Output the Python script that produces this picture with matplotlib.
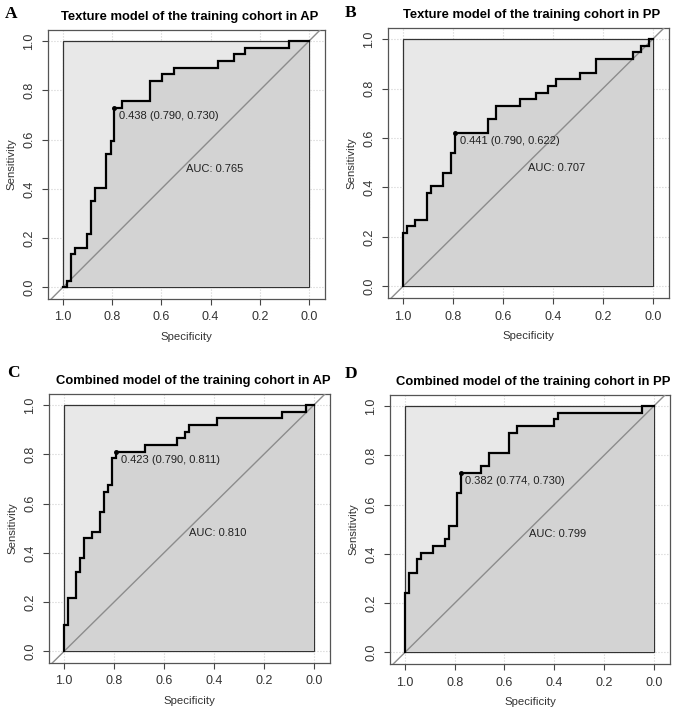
import matplotlib
matplotlib.use("Agg")
import matplotlib.pyplot as plt
import numpy as np

plt.rcParams['font.family'] = ['Liberation Sans', 'DejaVu Sans']

# ROC corner points (specificity, sensitivity)
spec_a = [1.000, 0.984, 0.968, 0.952, 0.903, 0.887, 0.871, 0.823, 0.806, 0.790,
          0.758, 0.645, 0.597, 0.548, 0.371, 0.306, 0.258, 0.081, 0.000]
sens_a = [0.000, 0.027, 0.135, 0.162, 0.216, 0.351, 0.405, 0.541, 0.595, 0.730,
          0.757, 0.838, 0.865, 0.892, 0.919, 0.946, 0.973, 1.000, 1.000]

spec_b = [1.000, 1.000, 0.984, 0.952, 0.903, 0.887, 0.839, 0.806, 0.790, 0.661,
          0.629, 0.532, 0.468, 0.419, 0.387, 0.290, 0.226, 0.081, 0.048, 0.016, 0.000]
sens_b = [0.000, 0.216, 0.243, 0.270, 0.378, 0.405, 0.459, 0.541, 0.622, 0.676,
          0.730, 0.757, 0.784, 0.811, 0.838, 0.865, 0.919, 0.946, 0.973, 1.000, 1.000]

spec_c = [1.000, 1.000, 0.984, 0.952, 0.935, 0.919, 0.887, 0.855, 0.839, 0.823,
          0.806, 0.790, 0.677, 0.548, 0.516, 0.500, 0.387, 0.129, 0.032, 0.000]
sens_c = [0.000, 0.108, 0.216, 0.324, 0.378, 0.459, 0.486, 0.568, 0.649, 0.676,
          0.784, 0.811, 0.838, 0.865, 0.892, 0.919, 0.946, 0.973, 1.000, 1.000]

spec_d = [1.000, 1.000, 0.984, 0.952, 0.935, 0.887, 0.839, 0.823, 0.790, 0.774,
          0.694, 0.661, 0.581, 0.548, 0.403, 0.387, 0.048, 0.000]
sens_d = [0.000, 0.243, 0.324, 0.378, 0.405, 0.432, 0.459, 0.514, 0.649, 0.730,
          0.757, 0.811, 0.892, 0.919, 0.946, 0.973, 1.000, 1.000]

# best threshold + its (specificity, sensitivity), and AUC
thresholds = [0.438, 0.441, 0.423, 0.382]
best_spec = [0.790, 0.790, 0.790, 0.774]
best_sens = [0.730, 0.622, 0.811, 0.730]
aucs = [0.765, 0.707, 0.810, 0.799]

titles = ["Texture model of the training cohort in AP",
          "Texture model of the training cohort in PP",
          "Combined model of the training cohort in AP",
          "Combined model of the training cohort in PP"]
letters = ["A", "B", "C", "D"]

W, H = 677, 715
# axes boxes in pixels: left, top, right, bottom
boxes = [(48, 30, 325, 299), (388, 28, 669, 298),
         (49, 394, 330, 663), (390, 395, 670, 664)]
ticks = [0.0, 0.2, 0.4, 0.6, 0.8, 1.0]
tick_lbls = ["0.0", "0.2", "0.4", "0.6", "0.8", "1.0"]


def roc_panel(ax, spec, sens, i):
    ax.set_xlim(1.06, -0.065)
    ax.set_ylim(-0.047, 1.045)

    # grid below everything
    ax.set_axisbelow(True)
    ax.grid(True, linestyle=':', color='#d0d0d0', lw=0.8)

    # max AUC polygon (the unit square) and the AUC polygon
    ax.fill([1, 1, 0, 0], [0, 1, 1, 0], facecolor='#e8e8e8',
            edgecolor='#333333', lw=0.9, zorder=2)
    ax.fill_between(spec, sens, 0, step='post', facecolor='#d3d3d3',
                    edgecolor='none', zorder=3)

    # chance line
    ax.plot([1.2, -0.2], [-0.2, 1.2], color='#8c8c8c', lw=1.0, zorder=4)

    ax.plot(spec, sens, drawstyle='steps-post', color='black', lw=1.6,
            zorder=5, solid_joinstyle='miter')

    ax.plot(best_spec[i], best_sens[i], 'o', color='black', ms=2.5, zorder=6)
    ax.annotate("{:.3f} ({:.3f}, {:.3f})".format(thresholds[i], best_spec[i], best_sens[i]),
                (best_spec[i], best_sens[i]), xytext=(3, -2.5),
                textcoords='offset points', ha='left', va='top',
                fontsize=8, color='#222222', zorder=7)
    ax.text(0.5, 0.5, "AUC: {:.3f}".format(aucs[i]), ha='left', va='top',
            fontsize=8, color='#222222', zorder=7)

    ax.set_xticks(ticks)
    ax.set_xticklabels(tick_lbls)
    ax.set_yticks(ticks)
    ax.set_yticklabels(tick_lbls, rotation=90, va='center')
    ax.tick_params(direction='out', length=4, width=0.8, color='#444444',
                   labelsize=9, labelcolor='#333333', pad=5)
    for s in ax.spines.values():
        s.set_color('#555555')
        s.set_linewidth(0.9)
    ax.set_xlabel("Specificity", fontsize=8.2, color='#333333', labelpad=6)
    ax.set_ylabel("Sensitivity", fontsize=8.2, color='#333333', labelpad=5)
    ax.set_title(titles[i], fontsize=9.4, fontweight='bold', pad=7, x=0.512)


fig = plt.figure(figsize=(W / 100, H / 100), dpi=100)
all_data = [(spec_a, sens_a), (spec_b, sens_b), (spec_c, sens_c), (spec_d, sens_d)]
for i, (spec, sens) in enumerate(all_data):
    l, t, r, b = boxes[i]
    ax = fig.add_axes([l / W, 1 - b / H, (r - l) / W, (b - t) / H])
    roc_panel(ax, spec, sens, i)

# panel letters
letter_pos = [(5, 14), (345, 13), (7, 373), (345, 374)]
for (x, y), s in zip(letter_pos, letters):
    fig.text(x / W, 1 - y / H, s, fontsize=12.5, fontweight='bold',
             family=['Liberation Serif', 'DejaVu Serif'], va='center', ha='left')

fig.savefig("out.png", dpi=100)
